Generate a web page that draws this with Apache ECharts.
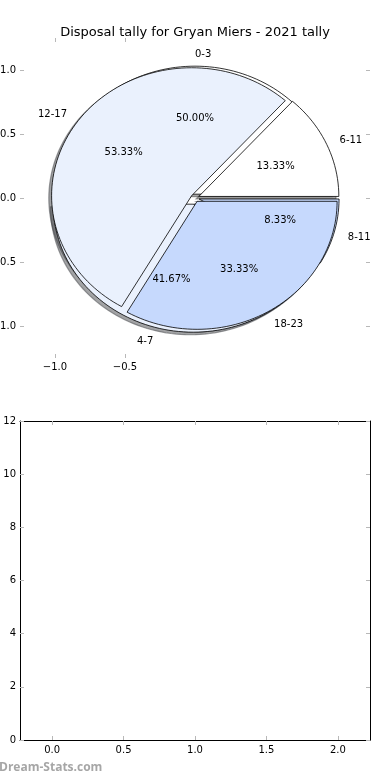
<!DOCTYPE html>
<html>
<head>
<meta charset="utf-8">
<script src="https://cdn.jsdelivr.net/npm/echarts@6/dist/echarts.min.js"></script>
<style>
html,body{margin:0;padding:0;background:#fff;}
#c{width:390px;height:780px;}
</style>
</head>
<body>
<div id="c"></div>
<script>
// ---- data ----
const titleText = 'Disposal tally for Gryan Miers - 2021 tally';
const pieACategories = ['0-3', '4-7', '8-11'];
const pieAValues = [6, 5, 1];
const pieBCategories = ['6-11', '12-17', '18-23'];
const pieBValues = [2, 8, 5];
const pieXTicks = [-1.0, -0.5];
const pieYTicks = [-1.0, -0.5, 0.0, 0.5, 1.0];
const barX = [0, 1, 2];
const barValues = [0, 0, 0];
const barXTicks = [0, 0.5, 1.0, 1.5, 2.0];
const watermark = 'Dream-Stats.com';

// ---- styling ----
const sliceColors = ['#ffffff', '#eaf1fd', '#c6d9fd'];
const explodeA = [0.03, 0.05, 0.03];
const explodeB = [0.03, 0.03, 0.03];
const FONT = '"DejaVu Sans", sans-serif';
const tickColor = '#b8b8b8';
const TEXT_DY = 1.5;

function fmt(v) { return v.toFixed(1).replace('-', '\u2212'); }

function wedges(values, cats, explode) {
  const sum = values.reduce((a, b) => a + b, 0);
  let acc = 0;
  return values.map((v, i) => {
    const t1 = acc / sum * 360; acc += v;
    const t2 = acc / sum * 360;
    const tm = (t1 + t2) / 2 * Math.PI / 180;
    return { t1, t2, tm, cx: explode[i] * Math.cos(tm), cy: explode[i] * Math.sin(tm),
             pct: (v / sum * 100).toFixed(2) + '%', cat: cats[i], color: sliceColors[i] };
  });
}
const WA = wedges(pieAValues, pieACategories, explodeA);
const WB = wedges(pieBValues, pieBCategories, explodeB);
const allW = WA.concat(WB);

function wedgePoints(api, cx, cy, t1, t2) {
  const pts = [api.coord([cx, cy])];
  const n = Math.max(6, Math.ceil((t2 - t1) / 2));
  for (let k = 0; k <= n; k++) {
    const t = (t1 + (t2 - t1) * k / n) * Math.PI / 180;
    pts.push(api.coord([cx + Math.cos(t), cy + Math.sin(t)]));
  }
  return pts;
}

function shadowColor(hex) {
  const r = parseInt(hex.slice(1, 3), 16), g = parseInt(hex.slice(3, 5), 16), b = parseInt(hex.slice(5, 7), 16);
  return 'rgba(' + Math.round(r * 0.3) + ',' + Math.round(g * 0.3) + ',' + Math.round(b * 0.3) + ',0.5)';
}

function renderShadow(params, api) {
  const w = allW[params.dataIndex];
  const sc = shadowColor(w.color);
  return { type: 'polygon', shape: { points: wedgePoints(api, w.cx - 0.02, w.cy - 0.02, w.t1, w.t2) },
           style: { fill: sc, stroke: sc, lineWidth: 1.2 } };
}

function makeRender(W) {
  return function (params, api) {
    const w = W[params.dataIndex];
    const lx = w.cx + 1.1 * Math.cos(w.tm), ly = w.cy + 1.1 * Math.sin(w.tm);
    const px = w.cx + 0.6 * Math.cos(w.tm), py = w.cy + 0.6 * Math.sin(w.tm);
    const lp = api.coord([lx, ly]), pp = api.coord([px, py]);
    return { type: 'group', children: [
      { type: 'polygon', shape: { points: wedgePoints(api, w.cx, w.cy, w.t1, w.t2) },
        style: { fill: w.color, stroke: '#000', lineWidth: 0.8 } },
      { type: 'text', x: lp[0], y: lp[1] + TEXT_DY, z2: 10,
        style: { text: w.cat, fill: '#000', font: '10px ' + FONT, align: lx > 0 ? 'left' : 'right', verticalAlign: 'middle' } },
      { type: 'text', x: pp[0], y: pp[1] + TEXT_DY, z2: 10,
        style: { text: w.pct, fill: '#000', font: '10px ' + FONT, align: 'center', verticalAlign: 'middle' } }
    ] };
  };
}

const chart = echarts.init(document.getElementById('c'), null, { renderer: 'canvas' });

const tickStyle = { inside: true, length: 4, lineStyle: { color: tickColor, width: 1 } };
const lblStyle = { color: '#000', fontSize: 10, fontFamily: FONT };
const frameLine = { show: true, onZero: false, lineStyle: { color: '#000', width: 1 } };
const noLine = { show: false, onZero: false };

chart.setOption({
  animation: false,
  backgroundColor: '#fff',
  title: { text: titleText, left: 'center', top: 21,
           textStyle: { fontSize: 13, fontWeight: 'normal', color: '#000', fontFamily: FONT } },
  graphic: [{ type: 'text', left: -1, top: 762,
              style: { text: watermark, fill: '#a6a6a6', font: 'bold 12px "Open Sans", sans-serif' } }],
  grid: [
    { left: 20, right: 20, top: 38, height: 320, containLabel: false, outerBoundsMode: 'none' },
    { left: 20, right: 20, top: 421, height: 319, containLabel: false, outerBoundsMode: 'none' }
  ],
  xAxis: [
    { type: 'value', gridIndex: 0, min: -1.25, max: 1.25, position: 'bottom',
      axisLine: noLine, splitLine: { show: false },
      axisTick: Object.assign({ customValues: pieXTicks }, tickStyle),
      axisLabel: Object.assign({ customValues: pieXTicks, margin: 4, formatter: fmt }, lblStyle) },
    { type: 'value', gridIndex: 0, min: -1.25, max: 1.25, position: 'top',
      axisLine: noLine, splitLine: { show: false },
      axisTick: Object.assign({ customValues: pieXTicks }, tickStyle),
      axisLabel: { show: false } },
    { type: 'value', gridIndex: 1, min: -0.225, max: 2.225, position: 'bottom',
      axisLine: frameLine, splitLine: { show: false },
      axisTick: Object.assign({ customValues: barXTicks }, tickStyle),
      axisLabel: Object.assign({ customValues: barXTicks, margin: 5, formatter: fmt }, lblStyle) },
    { type: 'value', gridIndex: 1, min: -0.225, max: 2.225, position: 'top',
      axisLine: frameLine, splitLine: { show: false },
      axisTick: Object.assign({ customValues: barXTicks }, tickStyle),
      axisLabel: { show: false } }
  ],
  yAxis: [
    { type: 'value', gridIndex: 0, min: -1.25, max: 1.25, position: 'left',
      axisLine: noLine, splitLine: { show: false },
      axisTick: Object.assign({ customValues: pieYTicks }, tickStyle),
      axisLabel: Object.assign({ customValues: pieYTicks, margin: 4, formatter: fmt }, lblStyle) },
    { type: 'value', gridIndex: 0, min: -1.25, max: 1.25, position: 'right',
      axisLine: noLine, splitLine: { show: false },
      axisTick: Object.assign({ customValues: pieYTicks }, tickStyle),
      axisLabel: { show: false } },
    { type: 'value', gridIndex: 1, min: 0, max: 12, interval: 2, position: 'left',
      axisLine: frameLine, splitLine: { show: false },
      axisTick: tickStyle,
      axisLabel: Object.assign({ margin: 4 }, lblStyle) },
    { type: 'value', gridIndex: 1, min: 0, max: 12, interval: 2, position: 'right',
      axisLine: frameLine, splitLine: { show: false },
      axisTick: tickStyle,
      axisLabel: { show: false } }
  ],
  series: [
    { type: 'custom', xAxisIndex: 0, yAxisIndex: 0, clip: false, silent: true,
      data: allW.map((w, i) => i), renderItem: renderShadow },
    { type: 'custom', xAxisIndex: 0, yAxisIndex: 0, clip: false, silent: true,
      data: WA.map((w, i) => i), renderItem: makeRender(WA) },
    { type: 'custom', xAxisIndex: 0, yAxisIndex: 0, clip: false, silent: true,
      data: WB.map((w, i) => i), renderItem: makeRender(WB) },
    { type: 'bar', xAxisIndex: 2, yAxisIndex: 2, barWidth: 64, silent: true,
      itemStyle: { color: '#c6d9fd' },
      data: barX.map((x, i) => [x, barValues[i]]) }
  ]
});
</script>
</body>
</html>
